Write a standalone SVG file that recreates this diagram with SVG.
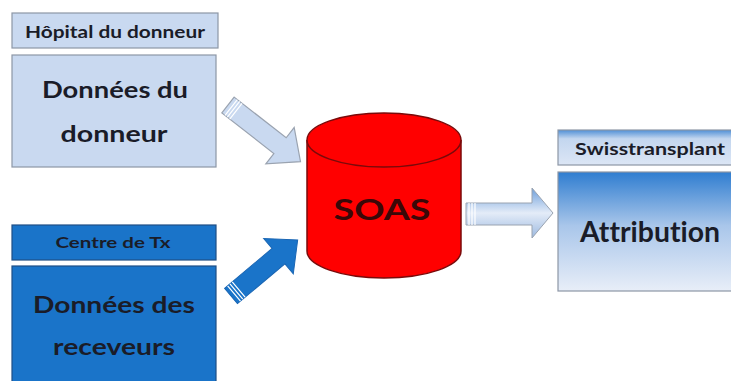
<svg xmlns="http://www.w3.org/2000/svg" width="731" height="381" viewBox="0 0 731 381">
<defs>
<style>
text{font-family:Lato,"Open Sans","Liberation Sans",sans-serif;font-weight:bold;fill:#1a1c28;text-anchor:middle;font-variant-ligatures:none}
.light{fill:#c9d9f0;stroke:#8d97a6;stroke-width:1.2}
.dark{fill:#1a74c9;stroke:#1f4f86;stroke-width:1.2}
.hdr{font-size:17px}
.big{font-size:23px}
</style>
<linearGradient id="gAttr" x1="0" y1="0" x2="0" y2="1">
<stop offset="0" stop-color="#2f7dd0"/>
<stop offset="0.45" stop-color="#a9c6ea"/>
<stop offset="1" stop-color="#e8eef8"/>
</linearGradient>
<linearGradient id="gSwiss" x1="0" y1="0" x2="0" y2="1">
<stop offset="0" stop-color="#4f8fd6"/>
<stop offset="0.25" stop-color="#c3d6ef"/>
<stop offset="1" stop-color="#dce6f5"/>
</linearGradient>
<linearGradient id="gArrow" x1="0" y1="0" x2="0" y2="1">
<stop offset="0" stop-color="#6e9fdb"/>
<stop offset="0.5" stop-color="#e4ecf8"/>
<stop offset="1" stop-color="#9cb9e0"/>
</linearGradient>
</defs>
<rect width="731" height="381" fill="#ffffff"/>
<g id="hopital">
<rect class="light" x="12" y="13" width="206" height="35"/>
<text class="hdr" x="115" y="38" textLength="180" lengthAdjust="spacingAndGlyphs">Hôpital du donneur</text>
</g>
<g id="donnees-donneur">
<rect class="light" x="12" y="55" width="204" height="112"/>
<text class="big" x="115" y="98" textLength="146" lengthAdjust="spacingAndGlyphs">Données du</text>
<text class="big" x="114" y="142" textLength="107" lengthAdjust="spacingAndGlyphs">donneur</text>
</g>
<g id="centre-tx">
<rect class="dark" x="12" y="225" width="204" height="35"/>
<text x="113" y="248" style="font-size:15px" textLength="115" lengthAdjust="spacingAndGlyphs">Centre de Tx</text>
</g>
<g id="donnees-receveurs">
<rect class="dark" x="12" y="266" width="204" height="120"/>
<text class="big" x="114" y="313" textLength="162" lengthAdjust="spacingAndGlyphs">Données des</text>
<text class="big" x="114" y="355" textLength="122" lengthAdjust="spacingAndGlyphs">receveurs</text>
</g>
<g id="soas">
<path d="M307,140 L307,251 A77,27 0 0 0 461,251 L461,140" fill="#ff0000" stroke="#7a0a0a" stroke-width="1.5"/>
<ellipse cx="384" cy="140" rx="77" ry="27" fill="#ff0000" stroke="#7a0a0a" stroke-width="1.5"/>
<text x="382" y="220" style="font-size:28px;fill:#3a0808" textLength="97" lengthAdjust="spacingAndGlyphs">SOAS</text>
</g>
<g id="swisstransplant">
<rect x="558" y="130" width="180" height="35" fill="url(#gSwiss)" stroke="#8d97a6" stroke-width="1.2"/>
<text class="hdr" x="650" y="155" textLength="150" lengthAdjust="spacingAndGlyphs">Swisstransplant</text>
</g>
<g id="attribution">
<rect x="558" y="172" width="180" height="119" fill="url(#gAttr)" stroke="#8d97a6" stroke-width="1.2"/>
<text x="650" y="242" style="font-size:28px" textLength="140" lengthAdjust="spacingAndGlyphs">Attribution</text>
</g>
<g id="connectors">
<g transform="translate(228,105) rotate(38)">
<path d="M0,-10 L66,-10 L66,-23 L92,0 L66,23 L66,10 L0,10 Z" fill="#c9d9f0" stroke="#9aa3b0" stroke-width="1.2"/>
<path d="M4,-10 V10 M7,-10 V10 M10,-10 V10" stroke="#ffffff" stroke-width="1.2"/>
</g>
<g transform="translate(231,296) rotate(-40)">
<path d="M0,-10 L62,-10 L62,-23 L87,0 L62,23 L62,10 L0,10 Z" fill="#1a74c9" stroke="#1a66b4" stroke-width="1"/>
<path d="M4,-10 V10 M7,-10 V10 M10,-10 V10" stroke="#ffffff" stroke-width="1.2"/>
</g>
<path d="M466,203 L532,203 L532,188 L553,213 L532,238 L532,225 L466,225 Z" fill="url(#gArrow)" stroke="#9aa3b0" stroke-width="1"/>
<path d="M469,203 V225 M472,203 V225 M475,203 V225" stroke="#ffffff" stroke-width="1.2"/>
</g>
</svg>
